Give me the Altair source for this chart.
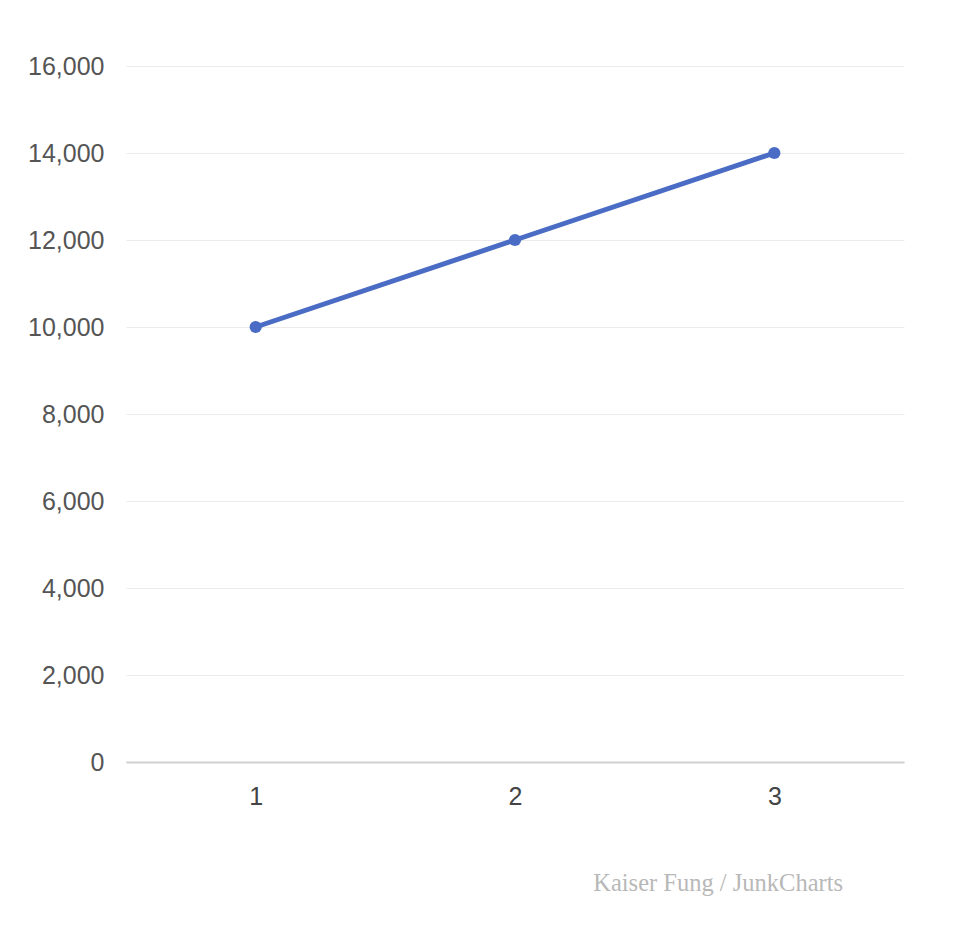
import altair as alt
import pandas as pd

periods = [1, 2, 3]
values = [10000, 12000, 14000]
y_ticks = [0, 2000, 4000, 6000, 8000, 10000, 12000, 14000, 16000]

df = pd.DataFrame({"period": periods, "value": values})

base = alt.Chart(df).encode(
    x=alt.X("period:O", title=None,
            scale=alt.Scale(paddingInner=1, paddingOuter=0.5),
            axis=alt.Axis(labelAngle=0, labelFont="Liberation Sans", labelFontSize=25,
                          labelColor="#444444", labelPadding=22, ticks=False,
                          domainColor="#d0d0d0", domainWidth=2, grid=False)),
    y=alt.Y("value:Q", title=None,
            scale=alt.Scale(domain=[0, 16000], nice=False),
            axis=alt.Axis(values=y_ticks, format=",d", labelFont="Liberation Sans",
                          labelFontSize=25, labelColor="#555555", labelPadding=22,
                          ticks=False, domain=False, gridColor="#ebebeb", gridWidth=1)),
)

line = base.mark_line(color="#4a6cc4", strokeWidth=5)
pts = base.mark_point(filled=True, color="#4a6cc4", size=150, opacity=1)

wm = alt.Chart(pd.DataFrame({"t": ["Kaiser Fung  /  JunkCharts"]})).mark_text(
    align="right", baseline="middle", font="Liberation Serif", fontSize=24.5,
    color="#b8b8b8"
).encode(text="t:N", x=alt.value(717), y=alt.value(818))

chart = (line + pts + wm).properties(
    width=778, height=696,
    autosize=alt.AutoSizeParams(type="none"),
    padding={"left": 118, "top": 58, "right": 50, "bottom": 150},
).configure_view(stroke=None)

chart.save("out.html", embed_options={"renderer": "svg", "actions": False})
